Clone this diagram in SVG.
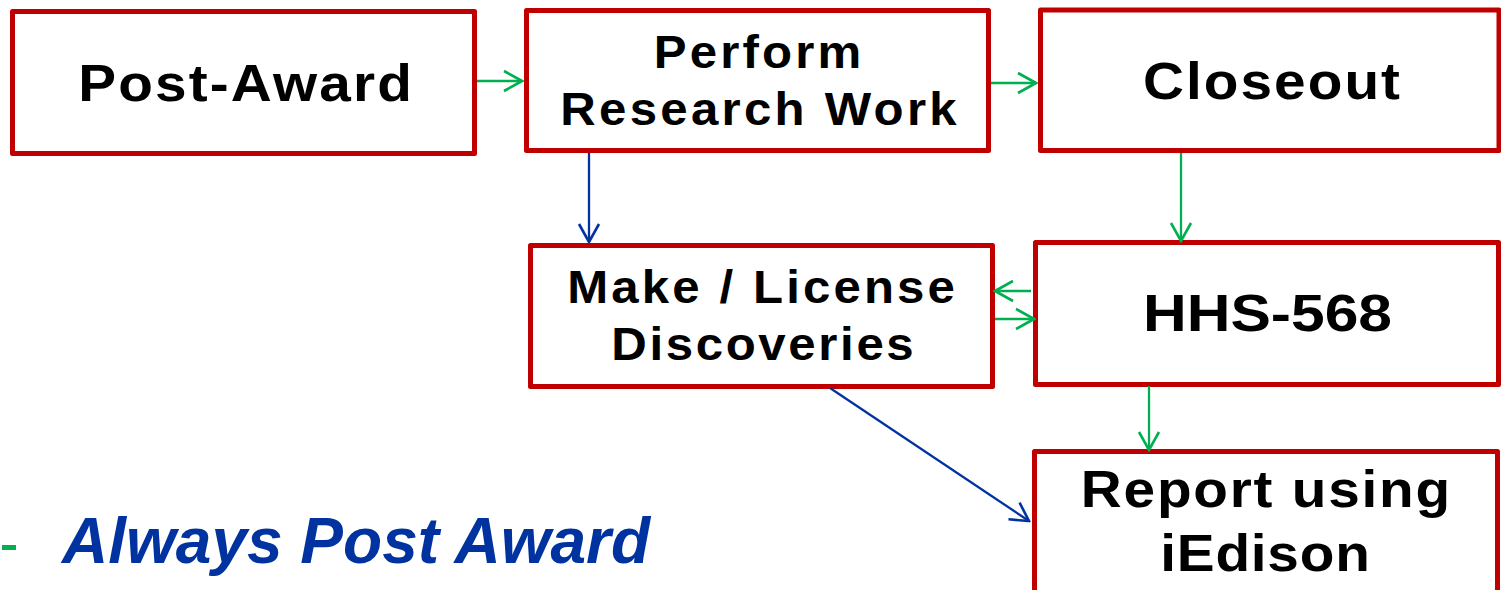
<svg xmlns="http://www.w3.org/2000/svg" width="1501" height="590" viewBox="0 0 1501 590">
<style>
.box{fill:#fff;stroke:#C00000;stroke-width:5;stroke-linejoin:round}
.lbl{font-family:"Liberation Sans",Arial,sans-serif;font-weight:bold;fill:#000;text-anchor:middle}
.big{font-size:52.5px}
.mid{font-size:45.5px}
.g{stroke:#00B050;stroke-width:2.3;fill:none}
.b{stroke:#0033A0;stroke-width:2.3;fill:none}
</style>
<defs>
<marker id="ag" viewBox="-20 -12 22 24" refX="0" refY="0" markerWidth="22" markerHeight="24" markerUnits="userSpaceOnUse" orient="auto">
<path d="M-18,-10 L0,0 L-18,10" fill="none" stroke="#00B050" stroke-width="2.6"/>
</marker>
<marker id="ab" viewBox="-20 -12 22 24" refX="0" refY="0" markerWidth="22" markerHeight="24" markerUnits="userSpaceOnUse" orient="auto">
<path d="M-18,-10 L0,0 L-18,10" fill="none" stroke="#0033A0" stroke-width="2.6"/>
</marker>
</defs>
<rect width="1501" height="590" fill="#fff"/>
<g id="post-award">
<rect class="box" x="12.5" y="11.5" width="462" height="142"/>
<text class="lbl big" transform="translate(245 101) scale(1.08 1)" x="0" y="0" textLength="309" lengthAdjust="spacing">Post-Award</text>
</g>
<g id="perform">
<rect class="box" x="526.5" y="10.5" width="462" height="140"/>
<text class="lbl mid" transform="translate(757.5 68) scale(1.08 1)" x="0" y="0" textLength="192" lengthAdjust="spacing">Perform</text>
<text class="lbl mid" transform="translate(758.5 125) scale(1.08 1)" x="0" y="0" textLength="367" lengthAdjust="spacing">Research Work</text>
</g>
<g id="closeout">
<rect class="box" x="1040.5" y="10" width="458.5" height="140.5"/>
<text class="lbl big" transform="translate(1271.5 99) scale(1.08 1)" x="0" y="0" textLength="238" lengthAdjust="spacing">Closeout</text>
</g>
<g id="make-license">
<rect class="box" x="530.5" y="245.5" width="462" height="141"/>
<text class="lbl mid" transform="translate(761 303) scale(1.08 1)" x="0" y="0" textLength="359" lengthAdjust="spacing">Make / License</text>
<text class="lbl mid" transform="translate(762.5 360) scale(1.08 1)" x="0" y="0" textLength="280" lengthAdjust="spacing">Discoveries</text>
</g>
<g id="hhs-568">
<rect class="box" x="1035.5" y="242.5" width="463" height="142"/>
<text class="lbl big" x="1267.5" y="331" textLength="249" lengthAdjust="spacingAndGlyphs">HHS-568</text>
</g>
<g id="report">
<rect class="box" x="1034.5" y="451.5" width="463" height="150"/>
<text class="lbl big" transform="translate(1265.5 507) scale(1.08 1)" x="0" y="0" textLength="342" lengthAdjust="spacing">Report using</text>
<text class="lbl big" transform="translate(1265 571) scale(1.08 1)" x="0" y="0" textLength="194" lengthAdjust="spacing">iEdison</text>
</g>
<g id="connectors">
<line class="g" x1="477" y1="81" x2="522" y2="81" marker-end="url(#ag)"/>
<line class="g" x1="991" y1="83" x2="1036" y2="83" marker-end="url(#ag)"/>
<line class="g" x1="1181" y1="153" x2="1181" y2="241" marker-end="url(#ag)"/>
<line class="g" x1="1031" y1="291" x2="995" y2="291" marker-end="url(#ag)"/>
<line class="g" x1="995" y1="319" x2="1034" y2="319" marker-end="url(#ag)"/>
<line class="g" x1="1149" y1="386" x2="1149" y2="450" marker-end="url(#ag)"/>
<line class="b" x1="589" y1="153" x2="589" y2="242" marker-end="url(#ab)"/>
<line class="b" x1="830" y1="388" x2="1029" y2="521" marker-end="url(#ab)"/>
</g>
<g id="note">
<rect x="2" y="545" width="14" height="5" fill="#00B050"/>
<text x="62" y="563" font-family="'Liberation Sans',Arial,sans-serif" font-weight="bold" font-style="italic" font-size="64" fill="#0033A0">Always Post Award</text>
</g>
</svg>
